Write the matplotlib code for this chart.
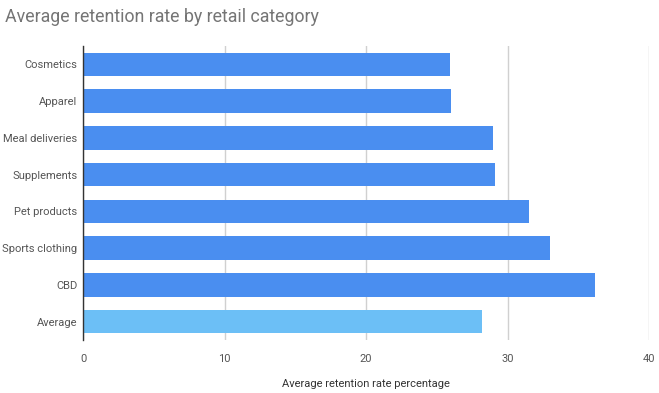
import matplotlib
matplotlib.use("Agg")
import matplotlib.pyplot as plt

categories = ["Cosmetics", "Apparel", "Meal deliveries", "Supplements",
              "Pet products", "Sports clothing", "CBD", "Average"]
values = [25.9, 26.0, 29.0, 29.1, 31.5, 33.0, 36.2, 28.2]
xticks = [0, 10, 20, 30, 40]

plt.rcParams['font.family'] = ['Roboto', 'DejaVu Sans']

fig = plt.figure(figsize=(6.59, 3.93), dpi=100)
ax = fig.add_axes([0.126, 0.135, 0.859, 0.748])

colors = ["#4a8ef0"] * 7 + ["#6cbff6"]
ypos = list(range(len(categories)))
ax.barh(ypos, values, height=0.64, color=colors, zorder=3)
ax.set_ylim(len(categories) - 0.5, -0.5)
ax.set_xlim(0, 40)
ax.set_xticks(xticks)
ax.set_xticklabels([str(t) for t in xticks])
ax.set_yticks(ypos)
ax.set_yticklabels(categories)

ax.grid(axis='x', color='#d0d0d0', linewidth=1, zorder=0)
for s in ['top', 'right', 'bottom']:
    ax.spines[s].set_visible(False)
ax.spines['left'].set_color('#333333')
ax.spines['left'].set_linewidth(1)
ax.spines['left'].set_zorder(4)
ax.tick_params(axis='both', length=0, labelsize=8, labelcolor='#555555')
ax.tick_params(axis='y', pad=4)
ax.tick_params(axis='x', pad=10)

ax.set_xlabel("Average retention rate percentage", fontsize=8, color='#333333', labelpad=11)
fig.text(0.008, 1 - 17 / 393, "Average retention rate by retail category",
         fontsize=12.8, color='#757575', va='center', ha='left')

fig.savefig("out.png", dpi=100)
